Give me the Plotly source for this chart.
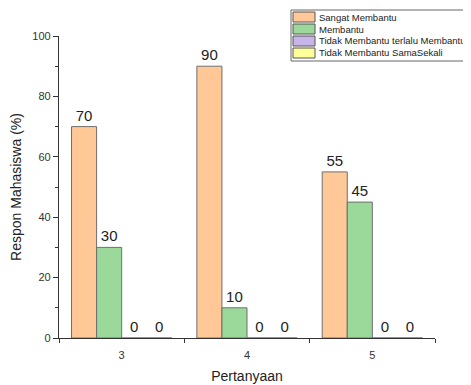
import plotly.graph_objects as go

categories = [3, 4, 5]
series_names = ["Sangat Membantu", "Membantu", "Tidak Membantu terlalu Membantu", "Tidak Membantu SamaSekali"]
sangat = [70, 90, 55]
membantu = [30, 10, 45]
tidak_terlalu = [0, 0, 0]
tidak_sama = [0, 0, 0]
y_ticks = [0, 20, 40, 60, 80, 100]

colors = ["#FFC896", "#9BD99B", "#C8B4E6", "#FFFF99"]
values = [sangat, membantu, tidak_terlalu, tidak_sama]

# page is 471x385; the HTML body adds an 8px offset
OFF = 8
W, H = 471 - OFF, 385 - OFF
ML, MR, MT, MB = 59 - OFF, 36, 36 - OFF, 47
PW, PH = W - ML - MR, H - MT - MB


def px2x(px):
    return (px - OFF - ML) / PW


def py2y(py):
    return (H + OFF - MB - py) / PH


fig = go.Figure()
for name, vals, c in zip(series_names, values, colors):
    fig.add_trace(go.Bar(
        x=categories, y=vals, name=name,
        marker=dict(color=c, line=dict(color="#6E6E6E", width=1)),
        text=[str(v) for v in vals], textposition="outside",
        textfont=dict(size=15, color="#222", family="Liberation Sans, Arial"),
        cliponaxis=False, showlegend=False,
    ))

# manual legend (Origin-style compact box)
shapes = [dict(type="rect", xref="paper", yref="paper",
               x0=px2x(291), x1=px2x(470.5), y0=py2y(61), y1=py2y(10),
               line=dict(color="#666", width=1), fillcolor="white", layer="above")]
annotations = []
for i, (name, c) in enumerate(zip(series_names, colors)):
    top = 12 + i * 12
    shapes.append(dict(type="rect", xref="paper", yref="paper",
                       x0=px2x(293), x1=px2x(315), y0=py2y(top + 10), y1=py2y(top),
                       line=dict(color="#555", width=1), fillcolor=c, layer="above"))
    annotations.append(dict(xref="paper", yref="paper", x=px2x(317), y=py2y(top + 5),
                            xanchor="left", yanchor="middle", text=name, showarrow=False,
                            font=dict(size=9.5, color="#222", family="Liberation Sans, Arial")))

fig.update_layout(
    width=W, height=H,
    margin=dict(l=ML, r=MR, t=MT, b=MB, autoexpand=False),
    barmode="group", bargap=0.2, bargroupgap=0,
    plot_bgcolor="white", paper_bgcolor="white",
    font=dict(family="Liberation Sans, Arial", color="#333"),
    showlegend=False,
    shapes=shapes, annotations=annotations,
    xaxis=dict(
        range=[2.5, 5.5], tickmode="array", tickvals=categories,
        ticktext=[str(c) for c in categories],
        showline=True, linecolor="#333", linewidth=1.2,
        ticks="", tickfont=dict(size=11, color="#333"), ticklabelstandoff=7,
        minor=dict(tickmode="array", tickvals=[2.5, 3.5, 4.5, 5.5], ticks="outside", ticklen=4, tickcolor="#333"),
        showgrid=False, zeroline=False, automargin=False,
        title=dict(text="Pertanyaan", font=dict(size=14, color="#222"), standoff=10),
    ),
    yaxis=dict(
        range=[0, 100], tickmode="array", tickvals=y_ticks,
        showline=True, linecolor="#333", linewidth=1.2,
        ticks="outside", ticklen=5, tickcolor="#333",
        tickfont=dict(size=11, color="#333"),
        minor=dict(dtick=10, ticks="outside", ticklen=3, tickcolor="#333"),
        showgrid=False, zeroline=False, automargin=False,
        title=dict(text="Respon Mahasiswa (%)", font=dict(size=14, color="#222"), standoff=9),
    ),
)

fig.write_html("out.html")
